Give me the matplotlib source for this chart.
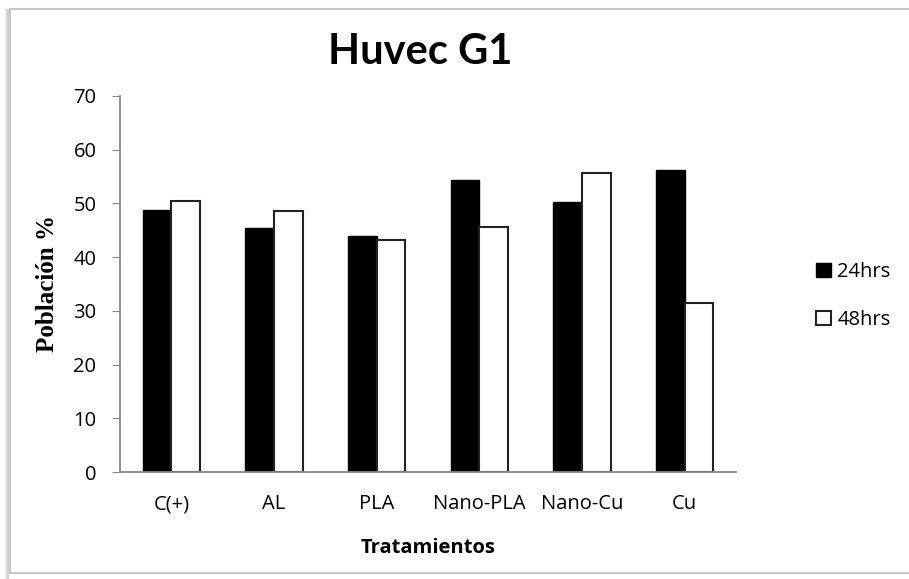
import matplotlib
matplotlib.use("Agg")
import matplotlib.pyplot as plt
from matplotlib.patches import Rectangle
import numpy as np

# datos
tratamientos = ["C(+)", "AL", "PLA", "Nano-PLA", "Nano-Cu", "Cu"]
h24 = [48.8, 45.4, 43.9, 54.3, 50.2, 56.2]
h48 = [50.5, 48.6, 43.1, 45.7, 55.7, 31.5]
yticks = [0, 10, 20, 30, 40, 50, 60, 70]

plt.rcParams['font.family'] = ['Open Sans', 'DejaVu Sans']

fig = plt.figure(figsize=(9.09, 5.79), dpi=100)
fig.patch.set_facecolor("white")

# marco con sombra (estilo Excel)
for i, c in enumerate(["#f0f0f0", "#e2e2e2", "#d0d0d0"]):
    fig.patches.append(Rectangle((6 / 909 + i * 0.0013, -0.01), 1.1, 0.998 - 8 / 579 - i * 0.002 + 0.01,
                                 transform=fig.transFigure, facecolor="none",
                                 edgecolor=c, linewidth=1.6, zorder=-5))
fig.patches.append(Rectangle((10 / 909, 6 / 579), 1.1, 1 - 15 / 579,
                             transform=fig.transFigure, facecolor="white",
                             edgecolor="#bdbdbd", linewidth=1.2, zorder=-4))

ax = fig.add_axes([120 / 909, 1 - 472 / 579, (736 - 120) / 909, (472 - 96) / 579])
ax.set_facecolor("none")
ax.set_zorder(2)

x = np.arange(len(tratamientos))
w = 0.28
ax.bar(x - w / 2, h24, w, color="black", edgecolor="black", linewidth=1, label="24hrs")
ax.bar(x + w / 2, h48, w, color="white", edgecolor="#222222", linewidth=1.5, label="48hrs")

ax.set_xlim(-0.5, len(tratamientos) - 0.5)
ax.set_ylim(0, 70)
ax.set_yticks(yticks)
ax.set_xticks(x)
ax.set_xticklabels(tratamientos, fontsize=14.5)
ax.tick_params(axis="x", length=0, pad=16)
ax.tick_params(axis="y", length=6, color="#888888", labelsize=14.5, pad=11)

for s in ["top", "right"]:
    ax.spines[s].set_visible(False)
for s in ["left", "bottom"]:
    ax.spines[s].set_color("#888888")
    ax.spines[s].set_linewidth(1.3)

ax.set_ylabel("Población %", fontsize=18, fontweight="bold", family="Liberation Serif")
ax.yaxis.set_label_coords((48 - 120) / 616, 0.5)
ax.yaxis.label.set_va("center")
ax.set_xlabel("Tratamientos", fontsize=14.5, fontweight="bold")
ax.xaxis.set_label_coords(0.5, -(548 - 472) / 376)
ax.xaxis.label.set_va("center")

fig.text(420 / 909, 1 - 52 / 579, "Huvec G1", fontsize=30, fontweight="bold",
         family="Lato", ha="center", va="center")

fig.legend(loc="center left", bbox_to_anchor=(798 / 909, 1 - 296 / 579), frameon=False,
           fontsize=14.5, handlelength=0.75, handleheight=0.75, labelspacing=1.4,
           handletextpad=0.3)

plt.savefig("out.png", dpi=100)
